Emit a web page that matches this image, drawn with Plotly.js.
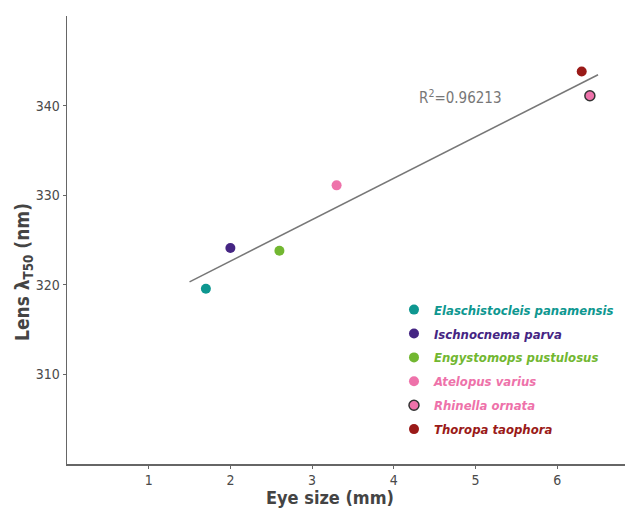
<!DOCTYPE html>
<html><head><meta charset="utf-8">
<script src="https://cdn.plot.ly/plotly-3.0.1.min.js"></script>
<style>body{margin:0;background:#fff}#c{width:625px;height:512px}</style>
</head><body><div id="c"></div>
<script>
const species = ["Elaschistocleis panamensis","Ischnocnema parva","Engystomops pustulosus","Atelopus varius","Rhinella ornata","Thoropa taophora"];
const eyeSize = [1.70, 2.00, 2.60, 3.30, 6.40, 6.30];
const lensT50 = [319.55, 324.1, 323.8, 331.1, 341.1, 343.8];
const colors = ["#0e9790","#452583","#72b731","#ee72aa","#ee72aa","#9a1a18"];
const outline = [false,false,false,false,true,false];
const fitRange = [1.5, 6.5];
const r2Label = "R<sup>2</sup>=0.96213";
const xTitle = "<b>Eye size (mm)</b>";
const yTitle = "<b>Lens λ<sub>T50</sub> (nm)</b>";

const FONT = "'DejaVu Sans Condensed','Liberation Sans Narrow',sans-serif";
const n = eyeSize.length;
const mx = eyeSize.reduce((a,b)=>a+b,0)/n, my = lensT50.reduce((a,b)=>a+b,0)/n;
let sxy=0,sxx=0; for(let i=0;i<n;i++){sxy+=(eyeSize[i]-mx)*(lensT50[i]-my);sxx+=(eyeSize[i]-mx)**2;}
const slope=sxy/sxx, icpt=my-slope*mx;

const traces = [{x:fitRange,y:fitRange.map(v=>icpt+slope*v),mode:'lines',line:{color:'#777',width:1.5},showlegend:false,hoverinfo:'skip'}];
species.forEach((s,i)=>{
  traces.push({x:[eyeSize[i]],y:[lensT50[i]],mode:'markers',type:'scatter',legendgroup:'g'+i,
    name:'<b><i><span style="color:'+colors[i]+'">'+s+'</span></i></b>',
    marker:{size:10,color:colors[i],line:{color:outline[i]?'#333':colors[i],width:outline[i]?1.5:0}}});
});
const layout = {
  width:625,height:512,margin:{l:67,r:0,t:16,b:48},
  paper_bgcolor:'#fff',plot_bgcolor:'#fff',
  font:{family:FONT,color:'#444',size:14},
  xaxis:{range:[0,6.83],tickvals:[1,2,3,4,5,6],showgrid:false,zeroline:false,showline:true,linecolor:'#666',linewidth:1.5,
    ticks:'outside',ticklen:3,tickcolor:'#666',tickfont:{size:14,color:'#4a4a4a'}},
  yaxis:{range:[300,350],tickvals:[310,320,330,340],showgrid:false,zeroline:false,showline:true,linecolor:'#666',linewidth:1.5,
    ticks:'outside',ticklen:3,tickcolor:'#666',tickfont:{size:14,color:'#4a4a4a'}},
  legend:{x:0.586,y:0.378,xanchor:'left',yanchor:'top',font:{size:13},tracegroupgap:4,itemwidth:20,bgcolor:'rgba(0,0,0,0)'},
  annotations:[
    {x:4.29,y:341,xanchor:'left',yanchor:'middle',text:r2Label,showarrow:false,font:{size:15,color:'#777',family:FONT}},
    {xref:'paper',yref:'paper',x:(330-67)/558,y:0,yanchor:'middle',yshift:-33,text:xTitle,showarrow:false,font:{size:18,color:'#444'}},
    {xref:'paper',yref:'paper',x:0,y:(464-272)/448,xanchor:'center',xshift:-44,textangle:-90,text:yTitle,showarrow:false,font:{size:19,color:'#444'}}
  ],
  showlegend:true
};
Plotly.newPlot('c',traces,layout,{staticPlot:true});
</script></body></html>
